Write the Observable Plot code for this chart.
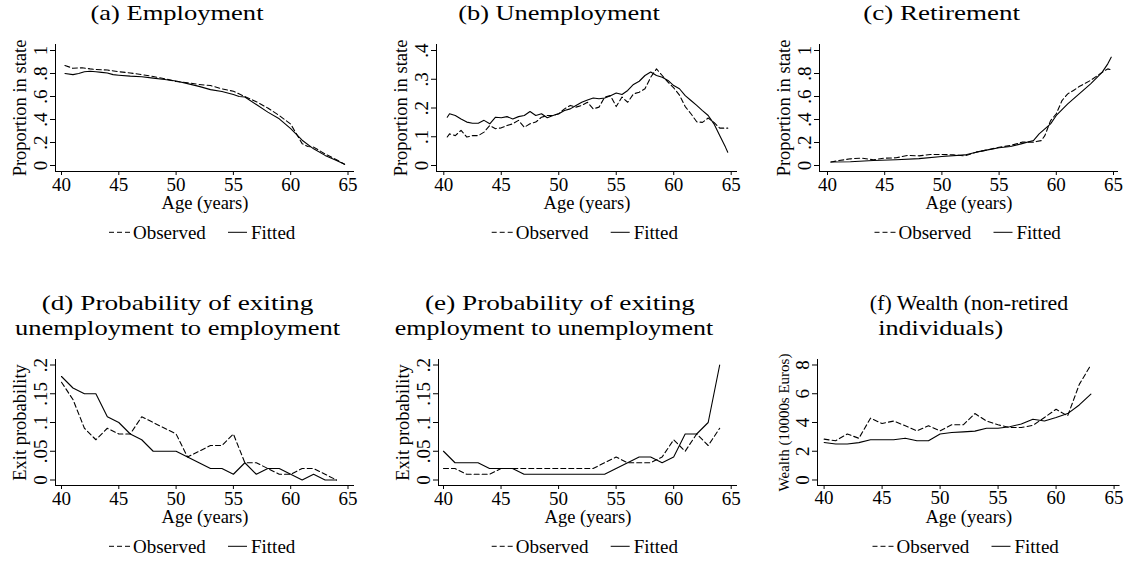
<!DOCTYPE html>
<html><head><meta charset="utf-8">
<script src="https://cdn.jsdelivr.net/npm/d3@7"></script>
<script src="https://cdn.jsdelivr.net/npm/@observablehq/plot@0.6"></script>
<style>
body{margin:0;background:#fff}
#root{position:relative;width:1130px;height:565px;overflow:hidden;background:#fff}
#root svg.panel{position:absolute}
#overlay{position:absolute;left:0;top:0;pointer-events:none}
</style></head>
<body><div id="root"></div>
<script>
// ---------- data ----------
const xTicks = [40, 45, 50, 55, 60, 65];

// (a) Employment
const empAgeObs = [40.3, 41, 41.8, 42.5, 43, 44, 45, 46, 47, 48, 49, 50, 51, 52, 53, 54, 55, 56, 57, 58, 59, 60, 60.5, 61, 61.5, 62, 63, 64, 64.7];
const empObs    = [0.87, 0.845, 0.85, 0.84, 0.835, 0.83, 0.815, 0.805, 0.79, 0.774, 0.755, 0.73, 0.72, 0.705, 0.695, 0.667, 0.645, 0.6, 0.555, 0.5, 0.435, 0.36, 0.275, 0.19, 0.165, 0.16, 0.1, 0.05, 0.01];
const empAgeFit = [40.3, 41, 41.5, 42, 42.5, 43, 43.5, 44, 44.5, 45, 46, 47, 48, 49, 50, 51, 52, 53, 54, 55, 55.5, 56, 57, 58, 59, 60, 61, 62, 63, 64, 64.7];
const empFit    = [0.8, 0.79, 0.8, 0.815, 0.82, 0.815, 0.81, 0.805, 0.79, 0.785, 0.777, 0.772, 0.76, 0.748, 0.735, 0.712, 0.688, 0.66, 0.643, 0.617, 0.6, 0.595, 0.53, 0.464, 0.406, 0.32, 0.22, 0.145, 0.088, 0.043, 0.01];

// (b) Unemployment
const unAge = [40.3, 40.5, 41, 41.5, 42, 42.5, 43, 43.5, 44, 44.5, 45, 45.5, 46, 46.5, 47, 47.5, 48, 48.5, 49, 49.5, 50, 50.5, 51, 51.5, 52, 52.5, 53, 53.5, 54, 54.5, 55, 55.5, 56, 56.5, 57, 57.5, 58, 58.5, 59, 59.5, 60, 60.5, 61, 61.5, 62, 62.5, 63, 63.5, 64, 64.5, 64.7];
const unObs = [0.099, 0.11, 0.104, 0.122, 0.099, 0.104, 0.104, 0.116, 0.139, 0.128, 0.131, 0.139, 0.145, 0.157, 0.133, 0.145, 0.151, 0.168, 0.174, 0.174, 0.18, 0.197, 0.209, 0.203, 0.209, 0.22, 0.197, 0.203, 0.238, 0.243, 0.205, 0.238, 0.22, 0.249, 0.255, 0.267, 0.307, 0.336, 0.313, 0.29, 0.27, 0.245, 0.205, 0.18, 0.152, 0.15, 0.165, 0.15, 0.13, 0.13, 0.13];
const unFit = [0.168, 0.18, 0.174, 0.162, 0.151, 0.147, 0.147, 0.157, 0.145, 0.168, 0.166, 0.17, 0.162, 0.17, 0.174, 0.188, 0.174, 0.18, 0.166, 0.174, 0.18, 0.191, 0.197, 0.209, 0.22, 0.228, 0.235, 0.232, 0.235, 0.243, 0.252, 0.247, 0.261, 0.282, 0.293, 0.313, 0.325, 0.313, 0.307, 0.296, 0.278, 0.267, 0.243, 0.226, 0.209, 0.191, 0.174, 0.145, 0.104, 0.064, 0.046];

// (c) Retirement
const retAgeObs = [40.3, 41, 42, 43, 44, 45, 46, 47, 48, 49, 50, 51, 52, 53, 54, 55, 56, 57, 58, 58.7, 59, 59.5, 60, 60.5, 61, 61.5, 62, 63, 64, 64.5, 64.7];
const retObs    = [0.03, 0.043, 0.058, 0.064, 0.05, 0.064, 0.067, 0.087, 0.084, 0.096, 0.096, 0.093, 0.084, 0.116, 0.136, 0.159, 0.174, 0.203, 0.203, 0.217, 0.26, 0.39, 0.45, 0.565, 0.623, 0.652, 0.687, 0.74, 0.81, 0.84, 0.835];
const retAgeFit = [40.3, 42, 44, 46, 48, 50, 52, 53, 54, 55, 56, 57, 58, 58.5, 59, 59.5, 60, 61, 62, 63, 64, 64.5, 64.8];
const retFit    = [0.03, 0.032, 0.043, 0.05, 0.06, 0.078, 0.092, 0.116, 0.136, 0.154, 0.165, 0.19, 0.217, 0.275, 0.319, 0.362, 0.435, 0.536, 0.623, 0.71, 0.81, 0.884, 0.942];

// (d)(e)(f) yearly
const ageYear = [40, 41, 42, 43, 44, 45, 46, 47, 48, 49, 50, 51, 52, 53, 54, 55, 56, 57, 58, 59, 60, 61, 62, 63, 64];
const ueObs = [0.17, 0.14, 0.09, 0.07, 0.09, 0.08, 0.08, 0.11, 0.10, 0.09, 0.08, 0.04, 0.05, 0.06, 0.06, 0.08, 0.03, 0.03, 0.02, 0.01, 0.01, 0.02, 0.02, 0.01, 0];
const ueFit = [0.18, 0.16, 0.15, 0.15, 0.11, 0.10, 0.08, 0.07, 0.05, 0.05, 0.05, 0.04, 0.03, 0.02, 0.02, 0.01, 0.03, 0.01, 0.02, 0.02, 0.01, 0, 0.01, 0, 0];
const euObs = [0.02, 0.02, 0.01, 0.01, 0.01, 0.02, 0.02, 0.02, 0.02, 0.02, 0.02, 0.02, 0.02, 0.02, 0.03, 0.04, 0.03, 0.03, 0.03, 0.04, 0.07, 0.05, 0.08, 0.06, 0.09];
const euFit = [0.05, 0.03, 0.03, 0.03, 0.02, 0.02, 0.02, 0.01, 0.01, 0.01, 0.01, 0.01, 0.01, 0.01, 0.01, 0.02, 0.03, 0.04, 0.04, 0.03, 0.04, 0.08, 0.08, 0.10, 0.20];
const wAge = [40, 41, 42, 43, 44, 45, 46, 47, 48, 49, 50, 51, 52, 53, 54, 55, 56, 57, 58, 59, 60, 61, 62, 63];
const wObs = [2.84, 2.73, 3.2, 2.9, 4.3, 3.93, 4.1, 3.77, 3.42, 3.77, 3.42, 3.84, 3.84, 4.62, 4.1, 3.84, 3.65, 3.65, 3.8, 4.35, 4.92, 4.46, 6.65, 8.0];
const wFit = [2.61, 2.5, 2.5, 2.6, 2.8, 2.8, 2.8, 2.9, 2.73, 2.73, 3.2, 3.3, 3.35, 3.4, 3.6, 3.6, 3.7, 3.9, 4.23, 4.1, 4.35, 4.62, 5.22, 5.97];

const titles = [["(a) Employment"], ["(b) Unemployment"], ["(c) Retirement"],
  ["(d) Probability of exiting", "unemployment to employment"],
  ["(e) Probability of exiting", "employment to unemployment"],
  ["(f) Wealth (non-retired", "individuals)"]];
const yLabels = ["Proportion in state", "Proportion in state", "Proportion in state", "Exit probability", "Exit probability", "Wealth (10000s Euros)"];
const yTicksList = [[0, .2, .4, .6, .8, 1], [0, .1, .2, .3, .4], [0, .2, .4, .6, .8, 1], [0, .05, .1, .15, .2], [0, .05, .1, .15, .2], [0, 2, 4, 6, 8]];
const legendLabels = ["Observed", "Fitted"];
const xLabel = "Age (years)";

// ---------- layout (page pixels) ----------
const layout = [
  {L: 55, R: 354, T: 44, B: 171, px40: 61, px65: 347.5, py0: 165, pyTop: 50, ytDx: -30, ySize: 18.5, titleX: [177], titleY: [20], titleW: [173], legX: 202},
  {L: 436, R: 737, T: 44, B: 171, px40: 443.3, px65: 730.7, py0: 165, pyTop: 50, ytDx: -30, ySize: 18.5, titleX: [559], titleY: [20], titleW: [201.7], legX: 584.7},
  {L: 819.3, R: 1118.3, T: 44, B: 171, px40: 827.3, px65: 1113.3, py0: 165, pyTop: 50, ytDx: -30, ySize: 18.5, titleX: [941.7], titleY: [20], titleW: [156.7], legX: 967.5},
  {L: 55, R: 354, T: 359, B: 485, px40: 61, px65: 347.5, py0: 479.5, pyTop: 364.5, ytDx: -30, ySize: 18.5, titleX: [177.5, 177.5], titleY: [310, 335], titleW: [271.7, 325], legX: 202},
  {L: 438.3, R: 737.3, T: 359, B: 485, px40: 443.3, px65: 731, py0: 479.5, pyTop: 364.5, ytDx: -30, ySize: 18.5, titleX: [560, 554], titleY: [310, 335], titleW: [270, 318.3], legX: 584.7},
  {L: 816.7, R: 1119.3, T: 359, B: 485, px40: 823.3, px65: 1113.3, py0: 479.5, pyTop: 364.5, ytDx: -29, ySize: 15, titleX: [969, 940.7], titleY: [310, 335], titleW: [198.3, 125], legX: 965.5}
];

const series = [
  [empAgeObs.map((a, i) => ({x: a, y: empObs[i]})), empAgeFit.map((a, i) => ({x: a, y: empFit[i]}))],
  [unAge.map((a, i) => ({x: a, y: unObs[i]})), unAge.map((a, i) => ({x: a, y: unFit[i]}))],
  [retAgeObs.map((a, i) => ({x: a, y: retObs[i]})), retAgeFit.map((a, i) => ({x: a, y: retFit[i]}))],
  [ageYear.map((a, i) => ({x: a, y: ueObs[i]})), ageYear.map((a, i) => ({x: a, y: ueFit[i]}))],
  [ageYear.map((a, i) => ({x: a, y: euObs[i]})), ageYear.map((a, i) => ({x: a, y: euFit[i]}))],
  [wAge.map((a, i) => ({x: a, y: wObs[i]})), wAge.map((a, i) => ({x: a, y: wFit[i]}))]
];

const fmtY = d => d === 0 ? "0" : String(d).replace(/^0\./, ".");
const serif = "'Liberation Serif', 'Times New Roman', serif";
const root = document.getElementById("root");
const mL = 70, mR = 12, mT = 10, mB = 80;

layout.forEach((p, k) => {
  const yt = yTicksList[k];
  const yTop = yt[yt.length - 1];
  const kx = (p.px65 - p.px40) / 25;
  const x0 = 40 - (p.px40 - p.L) / kx, x1 = 65 + (p.R - p.px65) / kx;
  const ky = (p.py0 - p.pyTop) / yTop;
  const y0 = -(p.B - p.py0) / ky, y1 = yTop + (p.pyTop - p.T) / ky;
  const [obs, fit] = series[k];
  const chart = Plot.plot({
    width: (p.R - p.L) + mL + mR,
    height: (p.B - p.T) + mT + mB,
    marginLeft: mL, marginRight: mR, marginTop: mT, marginBottom: mB,
    x: {domain: [x0, x1]},
    y: {domain: [y0, y1]},
    style: {fontFamily: serif, fontSize: "19px", color: "#000", background: "transparent", overflow: "visible"},
    marks: [
      Plot.ruleX([x0], {stroke: "#000", strokeWidth: 1}),
      Plot.ruleY([y0], {stroke: "#000", strokeWidth: 1}),
      Plot.axisX({ticks: xTicks, tickSize: 4, tickPadding: 1.5, tickFormat: d => String(d), label: null, fontSize: 19, stroke: "#000"}),
      Plot.axisY({ticks: yt, tickSize: 5, tickPadding: 4, tickRotate: -90, tickFormat: fmtY, label: null, fontSize: 19, stroke: "#000"}),
      Plot.line(obs, {x: "x", y: "y", stroke: "#000", strokeWidth: 1.1, strokeDasharray: "5,3"}),
      Plot.line(fit, {x: "x", y: "y", stroke: "#000", strokeWidth: 1.1}),
      Plot.text([yLabels[k]], {text: d => d, frameAnchor: "left", dx: p.ytDx, rotate: -90, textAnchor: "middle", lineAnchor: "bottom", fontSize: p.ySize}),
      Plot.text([xLabel], {text: d => d, frameAnchor: "bottom", dy: 37.5, lineAnchor: "bottom", textAnchor: "middle", fontSize: 18.5})
    ]
  });
  chart.classList.add("panel");
  chart.style.left = (p.L - mL) + "px";
  chart.style.top = (p.T - mT) + "px";
  root.appendChild(chart);
});

// overlay: titles and legends
const ov = d3.select(root).append("svg").attr("id", "overlay").attr("width", 1130).attr("height", 565);
layout.forEach((p, k) => {
  titles[k].forEach((t, j) => {
    ov.append("text").attr("x", p.titleX[j]).attr("y", p.titleY[j])
      .attr("text-anchor", "middle").attr("font-family", serif).attr("font-size", 21.5)
      .attr("textLength", p.titleW[j]).attr("lengthAdjust", "spacingAndGlyphs").attr("fill", "#000").text(t);
  });
  const by = p.B + 68.3;
  const cx = p.legX;
  const g = ov.append("g").attr("font-family", serif).attr("font-size", 19).attr("fill", "#000");
  g.append("line").attr("x1", cx - 93).attr("x2", cx - 72).attr("y1", by - 7).attr("y2", by - 7)
    .attr("stroke", "#000").attr("stroke-width", 1).attr("stroke-dasharray", "5,3");
  g.append("text").attr("x", cx - 69).attr("y", by).text(legendLabels[0]);
  g.append("line").attr("x1", cx + 26).attr("x2", cx + 45).attr("y1", by - 7).attr("y2", by - 7)
    .attr("stroke", "#000").attr("stroke-width", 1);
  g.append("text").attr("x", cx + 49).attr("y", by).text(legendLabels[1]);
});
</script>
</body></html>
